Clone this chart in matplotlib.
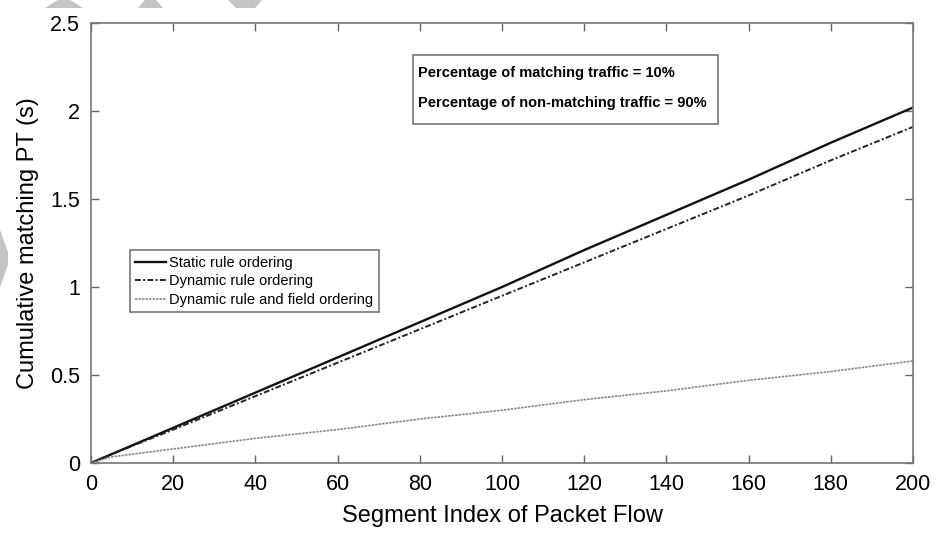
import numpy as np
import matplotlib
matplotlib.use('Agg')
import matplotlib.pyplot as plt
from matplotlib.patches import Polygon, Rectangle

plt.rcParams['font.family'] = ['Liberation Sans', 'DejaVu Sans']

# values
segment = [0, 5, 20, 40, 60, 80, 100, 120, 140, 160, 180, 200]
static_pt = [0, 0.05, 0.20, 0.40, 0.60, 0.80, 1.00, 1.21, 1.41, 1.61, 1.82, 2.02]
dynamic_pt = [0, 0.05, 0.19, 0.38, 0.57, 0.76, 0.95, 1.14, 1.33, 1.52, 1.72, 1.91]
field_pt = [0, 0.035, 0.08, 0.14, 0.19, 0.25, 0.30, 0.36, 0.41, 0.47, 0.52, 0.58]

series_labels = ['Static rule ordering', 'Dynamic rule ordering',
                 'Dynamic rule and field ordering']
info_lines = ['Percentage of matching traffic = 10%',
              'Percentage of non-matching traffic = 90%']

fig = plt.figure(figsize=(9.43, 5.33), dpi=100)
ax = fig.add_axes([0.0965, 0.1313, 0.8717, 0.8255])

ax.plot(segment, static_pt, color='#111111', lw=1.7, ls='-', label=series_labels[0])
ax.plot(segment, dynamic_pt, color='#222222', lw=1.4, ls=(0, (3, 1.2, 1, 1.2)), label=series_labels[1])
ax.plot(segment, field_pt, color='#8a8a8a', lw=1.2, ls=(0, (1.5, 0.6)), label=series_labels[2])

ax.set_xlim(0, 200)
ax.set_ylim(0, 2.5)
ax.set_xticks(np.arange(0, 201, 20))
ax.set_yticks([0, 0.5, 1, 1.5, 2, 2.5])
ax.set_yticklabels(['0', '0.5', '1', '1.5', '2', '2.5'])
ax.tick_params(direction='in', top=True, right=True, length=6, width=1,
               color='#666666', labelsize=15.5, pad=8)
ax.tick_params(axis='y', pad=8)
for s in ax.spines.values():
    s.set_color('#777777')
    s.set_linewidth(1.2)

ax.set_xlabel('Segment Index of Packet Flow', fontsize=17, labelpad=7)
ax.set_ylabel('Cumulative matching PT (s)', fontsize=17, labelpad=8)

leg = ax.legend(loc='upper left', bbox_to_anchor=(0.047, 0.484), borderaxespad=0,
                fontsize=10.5, handlelength=2.1, handletextpad=0.2, labelspacing=0.3,
                borderpad=0.4, fancybox=False, framealpha=1)
leg.get_frame().set_edgecolor('#777777')
leg.get_frame().set_linewidth(1.2)

# info box
ax.add_patch(Rectangle((0.392, 0.770), 0.371, 0.157, transform=ax.transAxes,
                       fill=False, edgecolor='#777777', lw=1.2))
ax.text(0.398, 0.886, info_lines[0], transform=ax.transAxes, fontsize=10.5,
        fontweight='bold', va='center', ha='left')
ax.text(0.398, 0.818, info_lines[1], transform=ax.transAxes, fontsize=10.5,
        fontweight='bold', va='center', ha='left')

# faint watermark shapes along the top and left edges
W, H = 943, 533
shapes = [
    [(45, 8), (83, 8), (70, 0), (58, 0)],
    [(138, 8), (163, 8), (156, 0), (145, 0)],
    [(228, 0), (262, 0), (255, 8), (236, 8)],
    [(0, 230), (8, 252), (8, 265), (0, 287)],
]
for pts in shapes:
    fig.patches.append(Polygon([(x / W, 1 - y / H) for x, y in pts], closed=True,
                               transform=fig.transFigure, facecolor='#c4c4c4',
                               edgecolor='none', zorder=0))

fig.savefig('out.png', dpi=100)
